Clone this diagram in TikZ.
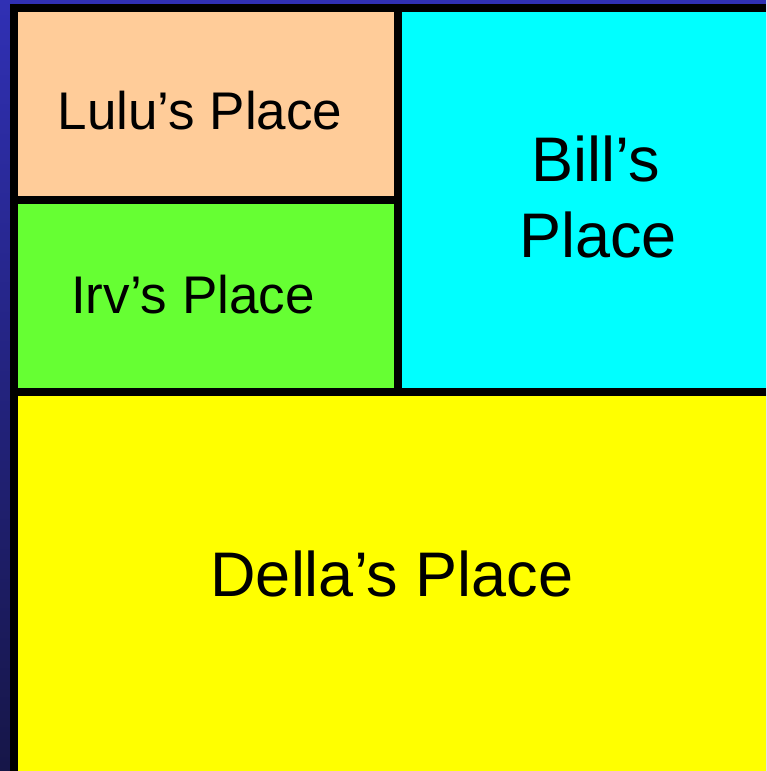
\documentclass[tikz,border=0pt]{standalone}
\usepackage{fontspec}
\setmainfont{Liberation Sans}
\definecolor{peach}{HTML}{FFCC99}
\definecolor{lime}{HTML}{66FF33}
\definecolor{aqua}{HTML}{00FFFF}
\definecolor{sun}{HTML}{FFFF00}
\definecolor{bluetop}{RGB}{48,48,180}
\definecolor{bluebot}{RGB}{22,22,72}
\tikzset{
  room/.style={inner sep=0pt, outer sep=0pt},
  small label/.style={anchor=base, font=\fontsize{53}{64}\selectfont},
  big label/.style={anchor=base, font=\fontsize{63}{75}\selectfont, align=center},
}
\begin{document}
\begin{tikzpicture}[x=1pt,y=-1pt]
\useasboundingbox (0,0) rectangle (766,771);
\shade[top color=bluetop, bottom color=bluebot] (0,0) rectangle (766,771);
\fill[black] (10,4) rectangle (766,771);
\fill[peach] (18,12) rectangle (394,196);
\fill[lime] (18,204) rectangle (394,388);
\fill[aqua] (402,12) rectangle (766,388);
\fill[sun] (18,396) rectangle (766,771);
\node[small label] (lulu) at (200,129) {Lulu’s Place};
\node[small label] (irv) at (193,313) {Irv’s Place};
\node[big label] (bill1) at (596,181) {Bill’s};
\node[big label] (bill2) at (598,257) {Place};
\node[big label] (della) at (392,596) {Della’s Place};
\end{tikzpicture}
\end{document}
